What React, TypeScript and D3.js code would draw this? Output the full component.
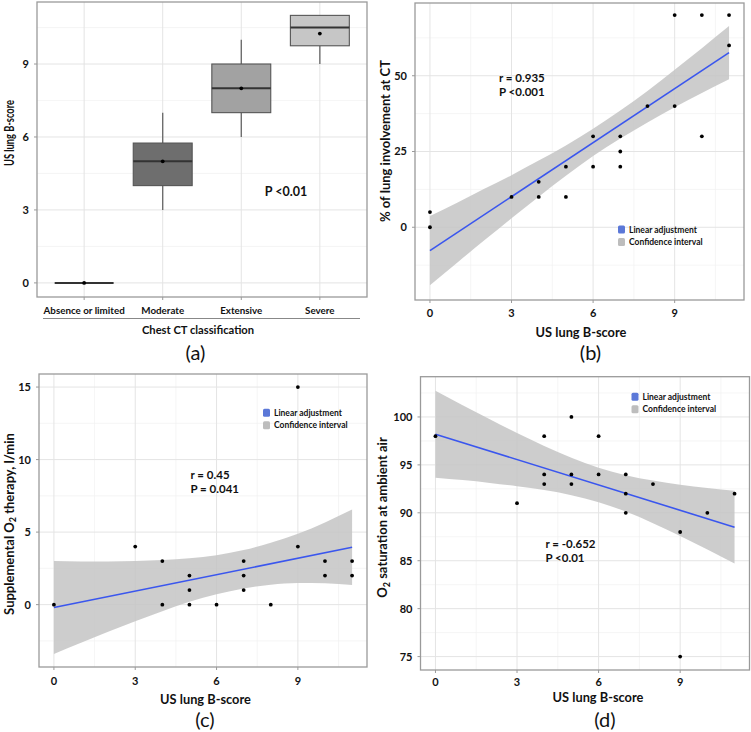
import React from 'react';
import * as d3 from 'd3';

const FONT = "Lato, 'Open Sans', 'DejaVu Sans', sans-serif";

// ---------- Panel (a): box plot ----------
const ctCategories = ['Absence or limited', 'Moderate', 'Extensive', 'Severe'];
const boxMin = [0, 3, 6, 9];
const boxQ1 = [0, 4, 7, 9.75];
const boxMedian = [0, 5, 8, 10.5];
const boxQ3 = [0, 5.75, 9, 11];
const boxMax = [0, 7, 10, 11];
const boxMean = [0, 5, 8, 10.25];
const scoreTicks = [0, 3, 6, 9];

// ---------- Panel (b): % lung involvement ----------
const bScore = [0, 0, 3, 4, 4, 5, 5, 6, 6, 7, 7, 7, 8, 9, 9, 10, 10, 11, 11];
const bInvolvement = [5, 0, 10, 15, 10, 20, 10, 30, 20, 30, 25, 20, 40, 70, 40, 70, 30, 70, 60];
const fitX = [0, 11];
const bFit = [-7.7, 57.6];
const ciX = [0, 1, 2, 3, 4, 5, 6, 7, 8, 9, 10, 11];
const bCiLow = [-19.1, -11.7, -4.3, 3.0, 10.1, 17.0, 23.5, 29.3, 34.6, 39.6, 44.3, 48.8];
const bCiHigh = [3.7, 8.1, 12.7, 17.2, 22.0, 27.0, 32.5, 38.5, 45.0, 52.0, 59.1, 66.4];
const bYTicks = [0, 25, 50];

// ---------- Panel (c): supplemental O2 ----------
const cScore = [0, 3, 4, 4, 5, 5, 5, 6, 7, 7, 7, 8, 9, 9, 10, 10, 11, 11];
const cOxygen = [0, 4, 3, 0, 2, 1, 0, 0, 3, 2, 1, 0, 15, 4, 3, 2, 3, 2];
const cFit = [-0.2, 3.95];
const cCiLow = [-3.4, -2.62, -1.87, -1.14, -0.45, 0.19, 0.71, 1.12, 1.37, 1.49, 1.47, 1.35];
const cCiHigh = [3.0, 2.98, 2.97, 3.0, 3.07, 3.19, 3.41, 3.76, 4.27, 4.89, 5.67, 6.55];
const cYTicks = [0, 5, 10, 15];

// ---------- Panel (d): O2 saturation ----------
const dScore = [0, 3, 4, 4, 4, 5, 5, 5, 6, 6, 7, 7, 7, 8, 9, 9, 10, 11];
const dSaturation = [98, 91, 98, 94, 93, 100, 94, 93, 98, 94, 94, 92, 90, 93, 88, 75, 90, 92];
const dFit = [98.2, 88.5];
const dCiLow = [93.67, 93.41, 93.12, 92.78, 92.37, 91.84, 91.11, 90.13, 88.92, 87.59, 86.18, 84.71];
const dCiHigh = [102.73, 101.23, 99.76, 98.32, 96.97, 95.74, 94.71, 93.93, 93.36, 92.93, 92.58, 92.29];
const dYTicks = [75, 80, 85, 90, 95, 100];

const legendLabels = ['Linear adjustment', 'Confidence interval'];

const GRID_MAJOR = '#e4e4e4';
const GRID_MINOR = '#f1f1f1';
const BORDER = '#9a9a9a';
const TEXT = '#111';

function minorBetween(ticks: number[], domain: number[]) {
  const step = ticks[1] - ticks[0];
  const out: number[] = [];
  for (let v = ticks[0] - step / 2; v <= domain[1]; v += step) {
    if (v >= domain[0]) out.push(v);
  }
  return out;
}

type Frame = { left: number; right: number; top: number; bottom: number };

function Grid({ f, xs, xMinor, y, yTicks, yMinor }: any) {
  return (
    <g>
      {yMinor.map((v: number, i: number) => (
        <line key={'ym' + i} x1={f.left} x2={f.right} y1={y(v)} y2={y(v)} stroke={GRID_MINOR} strokeWidth={0.7} />
      ))}
      {xMinor.map((v: number, i: number) => (
        <line key={'xm' + i} y1={f.top} y2={f.bottom} x1={v} x2={v} stroke={GRID_MINOR} strokeWidth={0.7} />
      ))}
      {yTicks.map((v: number, i: number) => (
        <line key={'yM' + i} x1={f.left} x2={f.right} y1={y(v)} y2={y(v)} stroke={GRID_MAJOR} strokeWidth={1} />
      ))}
      {xs.map((v: number, i: number) => (
        <line key={'xM' + i} y1={f.top} y2={f.bottom} x1={v} x2={v} stroke={GRID_MAJOR} strokeWidth={1} />
      ))}
    </g>
  );
}

function Border({ f }: { f: Frame }) {
  return (
    <rect x={f.left} y={f.top} width={f.right - f.left} height={f.bottom - f.top} fill="none" stroke={BORDER} strokeWidth={1.3} />
  );
}

function YAxis({ f, y, ticks, fs = 11 }: any) {
  return (
    <g>
      {ticks.map((v: number) => (
        <g key={v}>
          <line x1={f.left - 3} x2={f.left} y1={y(v)} y2={y(v)} stroke={BORDER} strokeWidth={1} />
          <text x={f.left - 8} y={y(v)} dy="0.36em" textAnchor="end" fontSize={fs} fontWeight={700} fill={TEXT} fontFamily={FONT}>
            {v}
          </text>
        </g>
      ))}
    </g>
  );
}

function BoxPanel() {
  const f: Frame = { left: 37, right: 367, top: 2, bottom: 297 };
  const xc = d3.scalePoint<string>().domain(ctCategories).range([f.left, f.right]).padding(0.6);
  const step = xc.step();
  const bw = step * 0.75;
  const y = d3.scaleLinear().domain([-0.58, 11.55]).range([f.bottom, f.top]);
  const fills = ['#333', '#6e6e6e', '#a2a2a2', '#c6c6c6'];
  const yMinor = minorBetween(scoreTicks, y.domain());
  return (
    <g>
      <Grid f={f} xs={ctCategories.map((c) => xc(c)!)} xMinor={[]} y={y} yTicks={scoreTicks} yMinor={yMinor} />
      {ctCategories.map((c, i) => {
        const cx = xc(c)!;
        if (boxQ3[i] - boxQ1[i] === 0) {
          return (
            <g key={c}>
              <line x1={cx - bw / 2} x2={cx + bw / 2} y1={y(boxMedian[i])} y2={y(boxMedian[i])} stroke="#333" strokeWidth={2} />
              <circle cx={cx} cy={y(boxMean[i])} r={1.9} fill="#000" />
            </g>
          );
        }
        return (
          <g key={c}>
            <line x1={cx} x2={cx} y1={y(boxMax[i])} y2={y(boxQ3[i])} stroke="#666" strokeWidth={1.3} />
            <line x1={cx} x2={cx} y1={y(boxMin[i])} y2={y(boxQ1[i])} stroke="#666" strokeWidth={1.3} />
            <rect x={cx - bw / 2} y={y(boxQ3[i])} width={bw} height={y(boxQ1[i]) - y(boxQ3[i])} fill={fills[i]} stroke="#555" strokeWidth={1.1} />
            <line x1={cx - bw / 2} x2={cx + bw / 2} y1={y(boxMedian[i])} y2={y(boxMedian[i])} stroke="#333" strokeWidth={2} />
            <circle cx={cx} cy={y(boxMean[i])} r={1.9} fill="#000" />
          </g>
        );
      })}
      <Border f={f} />
      <YAxis f={f} y={y} ticks={scoreTicks} fs={11} />
      {ctCategories.map((c) => (
        <g key={c}>
          <line x1={xc(c)!} x2={xc(c)!} y1={f.bottom} y2={f.bottom + 3} stroke={BORDER} />
          <text x={xc(c)!} y={310} dy="0.36em" textAnchor="middle" fontSize={9.8} fontWeight={700} fill={TEXT} fontFamily={FONT}>
            {c}
          </text>
        </g>
      ))}
      <line x1={43} x2={360} y1={318.5} y2={318.5} stroke="#888" strokeWidth={1} />
      <text x={198} y={329.5} dy="0.36em" textAnchor="middle" fontSize={11.2} fontWeight={700} fill={TEXT} fontFamily={FONT}>
        Chest CT classification
      </text>
      <text transform={`translate(9,133) rotate(-90)`} dy="0.36em" textAnchor="middle" fontSize={13} fontWeight={700} fill={TEXT} fontFamily={FONT} textLength={66} lengthAdjust="spacingAndGlyphs">
        US lung B-score
      </text>
      <text x={286} y={y(3.75)} dy="0.36em" textAnchor="middle" fontSize={12.5} fontWeight={700} fill={TEXT} fontFamily={FONT}>
        P &lt;0.01
      </text>
      <text x={195.5} y={352.5} dy="0.36em" textAnchor="middle" fontSize={20} fill={TEXT} fontFamily={FONT}>
        (a)
      </text>
    </g>
  );
}

function ScatterPanel(p: any) {
  const f: Frame = p.f;
  const x = d3.scaleLinear().domain([-0.55, 11.55]).range([f.left, f.right]);
  const y = d3.scaleLinear().domain(p.yDomain).range([f.bottom, f.top]);
  const band = d3
    .area<number>()
    .x((d) => x(d))
    .y0((_, i) => y(p.ciLow[i]))
    .y1((_, i) => y(p.ciHigh[i]))
    .curve(d3.curveMonotoneX);
  const line = d3
    .line<number>()
    .x((d) => x(d))
    .y((_, i) => y(p.fit[i]));
  const xMinor = minorBetween(scoreTicks, x.domain()).map((v) => x(v));
  const yMinor = minorBetween(p.yTicks, p.yDomain);
  const [lx, ly] = p.legend;
  return (
    <g>
      <Grid f={f} xs={scoreTicks.map((v) => x(v))} xMinor={xMinor} y={y} yTicks={p.yTicks} yMinor={yMinor} />
      <path d={band(ciX)!} fill="#c4c4c4" fillOpacity={0.85} />
      <path d={line(fitX)!} fill="none" stroke="#3a56ee" strokeWidth={1.6} />
      {p.xs.map((v: number, i: number) => (
        <circle key={i} cx={x(v)} cy={y(p.ys[i])} r={1.9} fill="#000" />
      ))}
      <Border f={f} />
      <YAxis f={f} y={y} ticks={p.yTicks} fs={11} />
      {scoreTicks.map((v) => (
        <g key={v}>
          <line x1={x(v)} x2={x(v)} y1={f.bottom} y2={f.bottom + 3} stroke={BORDER} />
          <text x={x(v)} y={p.xTickY} dy="0.36em" textAnchor="middle" fontSize={11} fontWeight={700} fill={TEXT} fontFamily={FONT}>
            {v}
          </text>
        </g>
      ))}
      {legendLabels.map((t, i) => (
        <g key={t}>
          <rect x={lx} y={ly + i * 12.6 - 4} width={7} height={8} rx={1.5} fill={i === 0 ? '#5b78d8' : '#bdbdbd'} />
          <text x={lx + 11} y={ly + i * 12.6} dy="0.36em" fontSize={8.5} fontWeight={700} fill={TEXT} fontFamily={FONT}>
            {t}
          </text>
        </g>
      ))}
      {p.annot.map((t: string, i: number) => (
        <text key={t} x={p.annotPos[0]} y={p.annotPos[1] + i * 13.5} dy="0.36em" fontSize={11.5} fontWeight={700} fill={TEXT} fontFamily={FONT}>
          {t}
        </text>
      ))}
      <text x={p.xTitlePos[0]} y={p.xTitlePos[1]} dy="0.36em" textAnchor="middle" fontSize={12.8} fontWeight={700} fill={TEXT} fontFamily={FONT}>
        US lung B-score
      </text>
      <text transform={`translate(${p.yTitlePos[0]},${p.yTitlePos[1]}) rotate(-90)`} dy="0.36em" textAnchor="middle" fontSize={13} fontWeight={700} fill={TEXT} fontFamily={FONT}>
        {p.yTitle}
      </text>
      <text x={p.labelPos[0]} y={p.labelPos[1]} dy="0.36em" textAnchor="middle" fontSize={20} fill={TEXT} fontFamily={FONT}>
        {p.label}
      </text>
    </g>
  );
}

export default function App() {
  return (
    <svg width={751} height={732} viewBox="0 0 751 732" style={{ position: 'absolute', left: 0, top: 0, background: '#fff' }}>
      <rect x={0} y={0} width={751} height={732} fill="#fff" />
      <BoxPanel />
      <ScatterPanel
        f={{ left: 415, right: 744, top: 3, bottom: 300 }}
        yDomain={[-24, 74]}
        yTicks={bYTicks}
        xs={bScore}
        ys={bInvolvement}
        fit={bFit}
        ciLow={bCiLow}
        ciHigh={bCiHigh}
        legend={[618, 229.5]}
        annot={['r = 0.935', 'P <0.001']}
        annotPos={[499, 78]}
        xTickY={313}
        xTitlePos={[581, 332]}
        yTitlePos={[385, 141]}
        yTitle="% of lung involvement at CT"
        labelPos={[590.5, 352.5]}
        label="(b)"
      />
      <ScatterPanel
        f={{ left: 39, right: 367, top: 374, bottom: 667 }}
        yDomain={[-4.3, 15.9]}
        yTicks={cYTicks}
        xs={cScore}
        ys={cOxygen}
        fit={cFit}
        ciLow={cCiLow}
        ciHigh={cCiHigh}
        legend={[263, 412.7]}
        annot={['r = 0.45', 'P = 0.041']}
        annotPos={[190.5, 475]}
        xTickY={681}
        xTitlePos={[205.5, 699.5]}
        yTitlePos={[9, 524]}
        yTitle={
          <>
            Supplemental O<tspan dy={2.5} fontSize={9}>2</tspan>
            <tspan dy={-2.5}> therapy, l/min</tspan>
          </>
        }
        labelPos={[205, 719.5]}
        label="(c)"
      />
      <ScatterPanel
        f={{ left: 420.5, right: 749.5, top: 376.7, bottom: 670 }}
        yDomain={[73.6, 104.2]}
        yTicks={dYTicks}
        xs={dScore}
        ys={dSaturation}
        fit={dFit}
        ciLow={dCiLow}
        ciHigh={dCiHigh}
        legend={[631.5, 396.7]}
        annot={['r = -0.652', 'P <0.01']}
        annotPos={[545.5, 544]}
        xTickY={682}
        xTitlePos={[598, 697]}
        yTitlePos={[382.5, 517.5]}
        yTitle={
          <>
            O<tspan dy={2.5} fontSize={9}>2</tspan>
            <tspan dy={-2.5}> saturation at ambient air</tspan>
          </>
        }
        labelPos={[605, 719.5]}
        label="(d)"
      />
    </svg>
  );
}
